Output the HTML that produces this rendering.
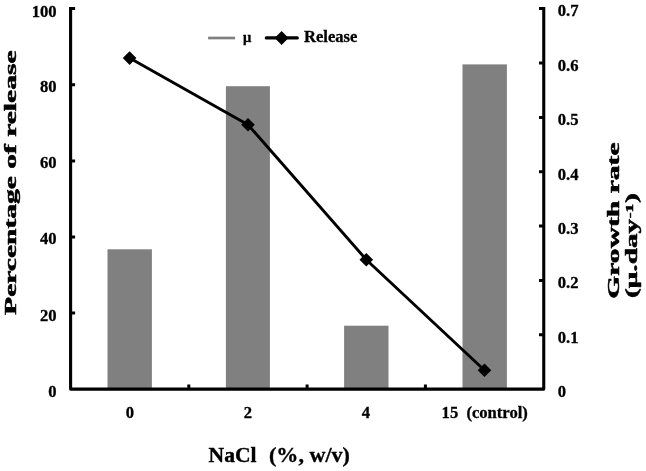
<!DOCTYPE html>
<html><head><meta charset="utf-8"><title>Chart</title>
<style>
html,body{margin:0;padding:0;background:#fff;}
svg{display:block;}
text{font-family:"Liberation Serif",serif;font-weight:bold;fill:#000;}
.t{font-size:16.6px;stroke:#000;stroke-width:0.3px;}
</style></head>
<body>
<svg width="646" height="471" viewBox="0 0 646 471">
<rect width="646" height="471" fill="#fff"/>
<!-- bars -->
<g fill="#808080">
<rect x="107.5" y="249.3" width="44.4" height="139.7"/>
<rect x="225.9" y="86.2" width="44" height="302.8"/>
<rect x="344.1" y="325.7" width="44.4" height="63.3"/>
<rect x="462.5" y="64.4" width="44.4" height="324.6"/>
</g>
<!-- axes -->
<g stroke="#000" stroke-width="3.1" fill="none" stroke-linejoin="round">
<path d="M70.6 7 V389.1 H543.75 V7"/>
</g>
<g stroke="#000" stroke-width="3" fill="none">
<path d="M70.6 8.5H75.1 M70.6 84.7H75.1 M70.6 160.9H75.1 M70.6 237H75.1 M70.6 313.1H75.1"/>
<path d="M543.7 8.5H539 M543.7 63H539 M543.7 117.4H539 M543.7 171.7H539 M543.7 226.1H539 M543.7 280.5H539 M543.7 334.8H539"/>
<path d="M188.8 389V384.4 M307.1 389V384.4 M425.4 389V384.4"/>
</g>
<!-- line -->
<polyline points="129.6,58.1 248,124.7 366.3,259.7 484.5,370.2" fill="none" stroke="#000" stroke-width="2.9" stroke-linejoin="round"/>
<g fill="#000">
<path d="M129.6 51.3 l6.8 6.8 -6.8 6.8 -6.8 -6.8z"/>
<path d="M248 117.9 l6.8 6.8 -6.8 6.8 -6.8 -6.8z"/>
<path d="M366.3 252.9 l6.8 6.8 -6.8 6.8 -6.8 -6.8z"/>
<path d="M484.5 363.4 l6.8 6.8 -6.8 6.8 -6.8 -6.8z"/>
</g>
<!-- legend -->
<path d="M208.1 38H235.1" stroke="#808080" stroke-width="2.7"/>
<text class="t" x="243" y="42.1" style="font-size:14.6px">μ</text>
<path d="M266.3 37.9H297.3" stroke="#000" stroke-width="3.2" stroke-linecap="round"/>
<path d="M281.6 31.1 l6.9 6.9 -6.9 6.9 -6.9 -6.9z"/>
<text class="t" x="304" y="41.7">Release</text>
<!-- left ticks -->
<g class="t" text-anchor="end">
<text x="56.6" y="16.6">100</text>
<text x="56.6" y="92.2">80</text>
<text x="56.6" y="168.3">60</text>
<text x="56.6" y="244.4">40</text>
<text x="56.6" y="320.5">20</text>
<text x="56.6" y="396.6">0</text>
</g>
<g class="t">
<text x="557.7" y="16.4">0.7</text>
<text x="557.7" y="70.8">0.6</text>
<text x="557.7" y="125.2">0.5</text>
<text x="557.7" y="179.6">0.4</text>
<text x="557.7" y="233.9">0.3</text>
<text x="557.7" y="288.3">0.2</text>
<text x="557.7" y="342.7">0.1</text>
<text x="557.7" y="396.7">0</text>
</g>
<g class="t" text-anchor="middle">
<text x="129.8" y="417.7">0</text>
<text x="247.9" y="417.7">2</text>
<text x="366" y="417.7">4</text>
</g>
<text class="t" x="441.6" y="417.6">15</text>
<text class="t" x="466.4" y="417.6" textLength="61.5" lengthAdjust="spacingAndGlyphs">(control)</text>
<text x="208.6" y="462.1" font-size="21.6" stroke="#000" stroke-width="0.35">NaCl</text>
<text x="269" y="462.1" font-size="21.6" stroke="#000" stroke-width="0.35" textLength="80.9" lengthAdjust="spacingAndGlyphs">(%, w/v)</text>
<g stroke="#000" stroke-width="0.5" stroke-linejoin="round">
<text transform="translate(16,314.9) rotate(-90)" font-size="16.4" textLength="264.4" lengthAdjust="spacingAndGlyphs">Percentage of release</text>
<text transform="translate(619,298.7) rotate(-90)" font-size="17" textLength="156.2" lengthAdjust="spacingAndGlyphs">Growth rate</text>
<text transform="translate(637.3,298) rotate(-90)" font-size="17.5" textLength="79.2" lengthAdjust="spacingAndGlyphs">(μ.day</text>
<text transform="translate(633,218.2) rotate(-90)" font-size="11.2" textLength="14.4" lengthAdjust="spacingAndGlyphs">-1</text>
<text transform="translate(637.3,202.9) rotate(-90)" font-size="17.5" textLength="10" lengthAdjust="spacingAndGlyphs">)</text>
</g>
</svg>
</body></html>
